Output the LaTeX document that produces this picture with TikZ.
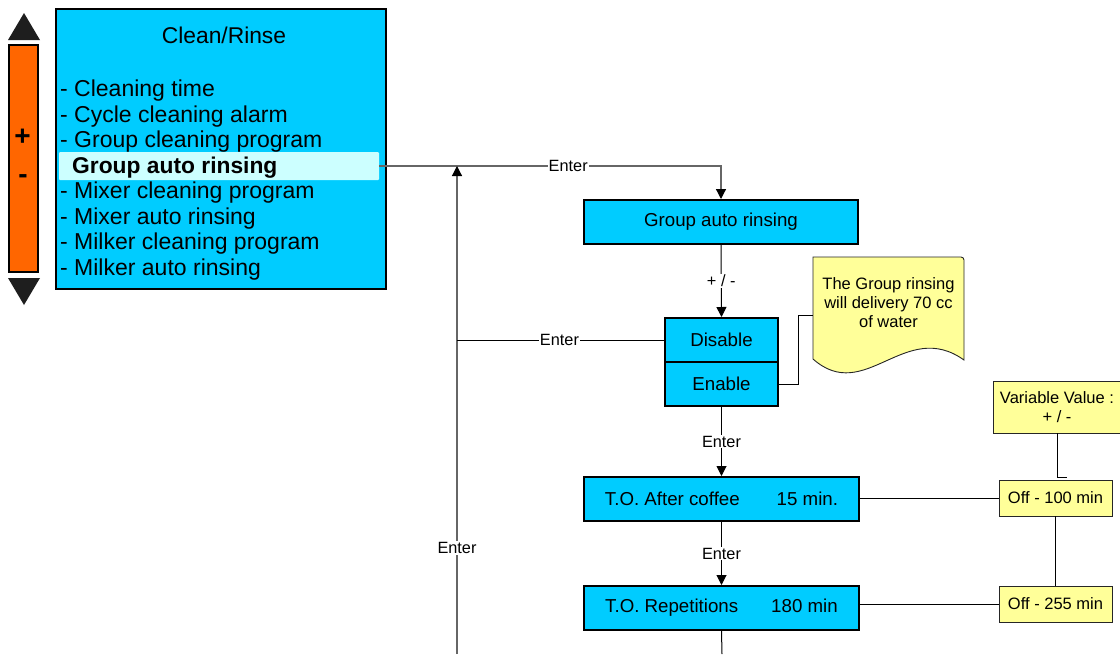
\documentclass[tikz,border=0pt]{standalone}
\usepackage{fontspec}
\setmainfont{Liberation Sans}
\usetikzlibrary{arrows.meta}
\definecolor{cyanbox}{HTML}{00CCFF}
\definecolor{hlcol}{HTML}{CCFFFF}
\definecolor{orangebar}{HTML}{FF6600}
\definecolor{notecol}{HTML}{FFFF99}
\definecolor{tri}{HTML}{1E1E1E}
\definecolor{linegray}{HTML}{666666}
\tikzset{
  cbox/.style={draw=black, line width=2pt, fill=cyanbox, inner sep=0pt,
    font=\fontsize{18.7}{22}\selectfont},
  ybox/.style={draw=black!85, line width=0.9pt, fill=notecol, inner sep=0pt,
    font=\fontsize{16.5}{19}\selectfont, align=center},
  lbl/.style={fill=white, inner sep=1pt, font=\fontsize{16.3}{19}\selectfont},
  listtxt/.style={anchor=base west, inner sep=0pt, font=\fontsize{23}{26}\selectfont},
  conn/.style={draw=black, line width=1pt},
  gconn/.style={draw=linegray, line width=1.2pt},
  arr/.style={-{Triangle[length=10pt,width=10pt,color=black]}},
}
\begin{document}
\begin{tikzpicture}[x=1pt,y=-1pt]
\useasboundingbox (0,0) rectangle (1120,654);

% scroll bar
\fill[tri] (8,40) -- (24,13) -- (40,40) -- cycle;
\fill[tri] (8,278) -- (40,278) -- (24,305) -- cycle;
\node[draw=black, line width=1.2pt, fill=orangebar, minimum width=29pt, minimum height=227pt, inner sep=0pt] (bar) at (23.5,158.5) {};
\node[inner sep=0pt, font=\bfseries\fontsize{28}{30}\selectfont] (plus) at (22.5,137) {+};
\node[inner sep=0pt, font=\bfseries\fontsize{28}{30}\selectfont] (minus) at (23,179) {-};

% main menu box
\node[draw=black, line width=2pt, fill=cyanbox, minimum width=330pt, minimum height=280pt, inner sep=0pt] (menu) at (221,149) {};
\node[anchor=base, inner sep=0pt, font=\fontsize{22.8}{26}\selectfont] (title) at (224,43.5) {Clean/Rinse};
\node[fill=hlcol, rounded corners=1pt, minimum width=320pt, minimum height=28pt, inner sep=0pt] (hl) at (219,166) {};
\node[listtxt] (l1) at (60,96.5) {- Cleaning time};
\node[listtxt] (l2) at (60,122) {- Cycle cleaning alarm};
\node[listtxt] (l3) at (60,147.5) {- Group cleaning program};
\node[listtxt, font=\bfseries\fontsize{22.8}{26}\selectfont] (l4) at (72,173) {Group auto rinsing};
\node[listtxt] (l5) at (60,198.5) {- Mixer cleaning program};
\node[listtxt] (l6) at (60,224) {- Mixer auto rinsing};
\node[listtxt] (l7) at (60,249.5) {- Milker cleaning program};
\node[listtxt] (l8) at (60,275) {- Milker auto rinsing};

% flow boxes
\node[cbox, minimum width=274pt, minimum height=44pt] (grp) at (721,222) {Group auto rinsing};
\node[cbox, minimum width=113pt, minimum height=44pt] (dis) at (721.5,340) {Disable};
\node[cbox, minimum width=113pt, minimum height=44pt] (ena) at (721.5,384) {Enable};
\node[cbox, minimum width=275pt, minimum height=44pt] (to1) at (721.5,499) {T.O. After coffee\hspace{37pt}15 min.};
\node[cbox, minimum width=275pt, minimum height=44pt] (to2) at (721.5,608) {T.O. Repetitions\hspace{33pt}180 min};

% yellow boxes
\node[ybox, minimum width=128pt, minimum height=52pt] (var) at (1057,407) {Variable Value :\\+ / -};
\node[ybox, minimum width=113pt, minimum height=36pt] (off1) at (1055.5,498) {Off - 100 min};
\node[ybox, minimum width=113pt, minimum height=36pt] (off2) at (1055.5,604) {Off - 255 min};

% note (document shape)
\filldraw[fill=notecol, draw=black!85, line width=0.9pt]
  (813,257) -- (961,257) to[out=0,in=90] (964,260) -- (964,360)
  .. controls (905,318) and (865,405) .. (813,359) -- cycle;
\node[anchor=north, inner sep=0pt, align=center, font=\fontsize{16.5}{19}\selectfont] (note) at (888.5,277) {The Group rinsing\\will delivery 70 cc\\of water};
\coordinate (notew) at (813,315);

% coordinates
\coordinate (bot) at (457,654);
\coordinate (bot2) at (722,654);

% connectors
\draw[gconn, arr] (hl.east) -- node[lbl, pos=0.553] {Enter} (hl.east -| grp.north) -- (grp.north);
\draw[gconn, arr] (bot) -- node[lbl, pos=0.217] {Enter} (bot |- hl.east);
\draw[conn] (dis.west) -- node[lbl, pos=0.505] {Enter} (dis.west -| bot);
\draw[conn, arr] (grp.south) -- node[lbl] {+ / -} (dis.north);
\draw[conn, arr] (ena.south) -- node[lbl] {Enter} (to1.north);
\draw[conn, arr] (to1.south) -- node[lbl] {Enter} (to2.north);
\draw[conn] (to2.south) -- (bot2);
\draw[conn] (ena.east) -- ++(19,0) |- (notew);
\draw[conn] (to1.east |- off1.west) -- (off1.west);
\draw[conn] (to2.east |- off2.west) -- (off2.west);
\draw[draw=black, line width=1.6pt] (off1.south) -- (off2.north);
\draw[conn] (var.south) -- ++(0,44) -- ++(10,0);
\end{tikzpicture}
\end{document}
